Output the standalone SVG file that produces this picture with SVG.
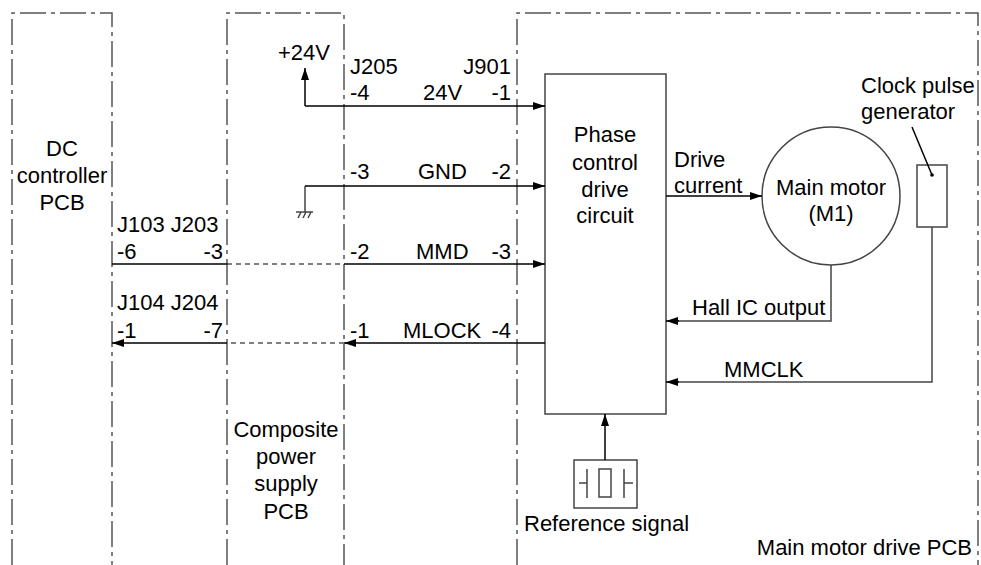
<svg xmlns="http://www.w3.org/2000/svg" width="981" height="565" viewBox="0 0 981 565">
<style>
text{font-family:"Liberation Sans",Arial,sans-serif;font-size:22px;fill:#000}
.bd{fill:none;stroke:#555;stroke-width:1.5;stroke-dasharray:26 5 4 5}
.sh{fill:#fff;stroke:#444;stroke-width:1.5}
.ln{fill:none;stroke:#000;stroke-width:1.5}
.gl{fill:none;stroke:#444;stroke-width:1.5}
.ds{fill:none;stroke:#000;stroke-width:1.2;stroke-dasharray:5 4}
.m{text-anchor:middle}
.e{text-anchor:end}
</style>
<defs>
<marker id="ah" viewBox="0 0 12 8" refX="12" refY="4" markerWidth="12" markerHeight="8" markerUnits="userSpaceOnUse" orient="auto">
<path d="M0,0 L12,4 L0,8 Z" fill="#000"/>
</marker>
</defs>
<g id="dc-controller">
<path class="bd" d="M12,565 V13 H112 V565"/>
<text class="m" x="62" y="156">DC</text>
<text class="m" x="62" y="183">controller</text>
<text class="m" x="62" y="210">PCB</text>
</g>
<g id="composite-power">
<path class="bd" d="M227,565 V13 H344 V565"/>
<text class="m" x="286" y="437">Composite</text>
<text class="m" x="286" y="464">power</text>
<text class="m" x="286" y="491">supply</text>
<text class="m" x="286" y="519">PCB</text>
</g>
<g id="main-motor-drive-pcb">
<path class="bd" d="M517,565 V13 H978 V565"/>
<text class="e" x="972" y="555">Main motor drive PCB</text>
</g>
<g id="phase-control">
<rect class="sh" x="545" y="74" width="121" height="340"/>
<text class="m" x="605" y="142">Phase</text>
<text class="m" x="605" y="170">control</text>
<text class="m" x="605" y="197">drive</text>
<text class="m" x="605" y="223">circuit</text>
</g>
<g id="main-motor">
<circle class="sh" cx="831" cy="196" r="69"/>
<text class="m" x="831" y="195">Main motor</text>
<text class="m" x="831" y="221">(M1)</text>
</g>
<g id="clock-pulse-generator">
<rect class="sh" x="917" y="165" width="30" height="62"/>
<circle cx="932" cy="175" r="1.8" fill="#000"/>
<line class="ln" x1="912" y1="127" x2="932" y2="175" stroke-width="1"/>
<text x="861" y="93">Clock pulse</text>
<text x="861" y="119">generator</text>
</g>
<g id="reference-signal">
<rect class="sh" x="574" y="460" width="63" height="48"/>
<path class="gl" d="M579,483 H587 M587,469 V498 M624,469 V498 M624,483 H633"/>
<rect class="gl" x="599" y="469" width="12" height="28"/>
<text x="524" y="531">Reference signal</text>
</g>
<g id="power-ground">
<text x="278" y="60">+24V</text>
<path class="gl" d="M296,212 H313 M298,218 L301,212 M303,218 L306,212 M308,218 L311,212"/>
</g>
<g id="connectors">
<path class="ln" d="M305,106 V68" marker-end="url(#ah)"/>
<path class="ln" d="M305,106 H545" marker-end="url(#ah)"/>
<path class="gl" d="M305,212 V186"/>
<path class="ln" d="M305,186 H545" marker-end="url(#ah)"/>
<path class="ln" d="M112,264 H227"/>
<path class="ds" d="M227,264 H344"/>
<path class="ln" d="M344,264 H545" marker-end="url(#ah)"/>
<path class="ln" d="M545,343 H344" marker-end="url(#ah)"/>
<path class="ds" d="M344,343 H227"/>
<path class="ln" d="M227,343 H112" marker-end="url(#ah)"/>
<path class="ln" d="M666,196 H762" marker-end="url(#ah)"/>
<path class="gl" d="M831,265 V321 H678"/>
<path class="ln" d="M679,321 H666" marker-end="url(#ah)"/>
<path class="gl" d="M932,227 V382 H678"/>
<path class="ln" d="M679,382 H666" marker-end="url(#ah)"/>
<path class="ln" d="M605,460 V414" marker-end="url(#ah)"/>
</g>
<g id="labels">
<text x="350" y="74">J205</text>
<text class="e" x="511" y="74">J901</text>
<text x="350" y="100">-4</text>
<text x="423" y="100">24V</text>
<text class="e" x="511" y="100">-1</text>
<text x="350" y="179">-3</text>
<text x="418" y="179">GND</text>
<text class="e" x="511" y="179">-2</text>
<text x="117" y="232">J103 J203</text>
<text x="117" y="259">-6</text>
<text class="e" x="223" y="259">-3</text>
<text x="350" y="259">-2</text>
<text x="416" y="259">MMD</text>
<text class="e" x="511" y="259">-3</text>
<text x="117" y="310">J104 J204</text>
<text x="117" y="338">-1</text>
<text class="e" x="223" y="338">-7</text>
<text x="350" y="338">-1</text>
<text x="403" y="338">MLOCK</text>
<text class="e" x="511" y="338">-4</text>
<text x="674" y="167">Drive</text>
<text x="674" y="193">current</text>
<text x="692" y="315">Hall IC output</text>
<text x="724" y="377">MMCLK</text>
</g>
</svg>
